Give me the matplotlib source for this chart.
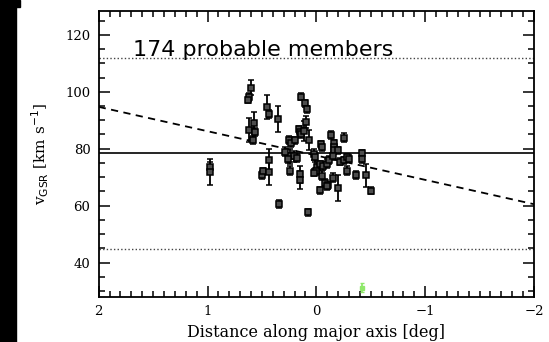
import matplotlib
matplotlib.use('Agg')
import matplotlib.pyplot as plt
import matplotlib.ticker as ticker
from matplotlib.patches import Rectangle
import numpy as np

# member stars: distance along major axis [deg], v_GSR [km/s], error
dist = [0.975, 0.975, 0.62, 0.605, 0.63, 0.62, 0.575, 0.56, 0.58, 0.455,
        0.437, 0.355, 0.495, 0.49, 0.435, 0.433, 0.343, 0.08, 0.14, 0.105,
        0.09, 0.097, 0.16, 0.15, 0.14, 0.113, 0.067, 0.25, 0.23, 0.20,
        0.24, 0.21, 0.18, 0.26, 0.244, 0.15, 0.15, 0.02, 0.01, -0.01,
        -0.04, -0.05, -0.135, -0.16, -0.165, -0.16, -0.257, -0.2, -0.03, -0.06,
        -0.1, -0.12, -0.15, -0.05, -0.08, -0.11, -0.1, -0.037, -0.15, -0.2,
        -0.22, -0.25, -0.28, -0.3, -0.28, -0.365, -0.42, -0.42, -0.46, -0.5,
        0.0, 0.02, 0.29]
vgsr = [73.5, 71.8, 98.2, 101.5, 97.0, 86.7, 89.0, 85.8, 83.0, 94.8,
        92.2, 90.4, 70.8, 72.0, 76.0, 71.8, 60.6, 57.6, 98.3, 96.0,
        93.9, 89.4, 86.8, 86.0, 85.0, 86.1, 83.2, 83.0, 82.0, 83.0,
        77.3, 77.3, 76.8, 76.5, 72.3, 71.0, 69.0, 78.0, 77.0, 73.4,
        81.5, 80.5, 84.9, 82.0, 80.5, 79.5, 83.9, 79.5, 74.5, 74.0,
        74.8, 76.0, 77.5, 70.5, 68.0, 67.2, 66.8, 65.4, 69.8, 66.1,
        75.5, 76.0, 77.0, 76.5, 72.3, 70.7, 78.5, 76.5, 70.7, 65.2,
        72.0, 71.5, 79.0]
verr = [2.0, 4.5, 1.5, 2.5, 1.0, 4.2, 4.0, 1.5, 1.5, 4.2,
        1.5, 4.5, 1.5, 1.2, 4.0, 4.5, 1.3, 1.3, 1.2, 1.2,
        1.2, 2.0, 1.2, 1.2, 1.2, 3.5, 3.5, 1.5, 1.5, 1.2,
        2.5, 2.0, 1.5, 1.5, 1.5, 3.0, 3.0, 2.0, 1.5, 1.5,
        1.2, 1.2, 1.5, 1.2, 1.2, 1.2, 1.5, 1.2, 1.2, 1.5,
        1.5, 1.5, 1.5, 1.5, 1.5, 1.2, 1.2, 1.2, 1.5, 4.5,
        1.2, 1.2, 1.2, 1.2, 1.5, 1.5, 1.2, 1.5, 4.0, 1.2,
        1.2, 1.2, 1.5]

# non-member (green)
green_dist = [-0.417]
green_v = [31.2]
green_err = [1.7]

v_mean = 78.6
v_cut = [112.0, 44.8]
grad_x = [2.0, -2.0]
grad_y = [94.7, 60.5]

fig = plt.figure(figsize=(5.49, 3.42), dpi=100)
fig.patch.set_facecolor('white')
ax = fig.add_axes([0.1798, 0.1325, 0.7929, 0.8362])

# black strip on left edge of the original image
fig.add_artist(Rectangle((0, 0), 16 / 549, 1, transform=fig.transFigure, color='black', zorder=10))
fig.add_artist(Rectangle((0, 1 - 7 / 342), 20 / 549, 7 / 342, transform=fig.transFigure, color='black', zorder=10))

ax.axhline(v_mean, color='black', lw=1.2)
for v in v_cut:
    ax.axhline(v, color='#444444', lw=1.0, ls=(0, (1, 1.6)))
ax.plot(grad_x, grad_y, color='black', lw=1.3, ls=(0, (4, 3)))

ax.errorbar(dist, vgsr, yerr=verr, fmt='s', ms=4, mfc='0.3', mec='black', mew=1.1,
            ecolor='black', elinewidth=1.3, capsize=2, capthick=1.2, zorder=3)
ax.errorbar(green_dist, green_v, yerr=green_err, fmt='s', ms=3, mfc='#8fe86a', mec='#8fe86a',
            ecolor='#8fe86a', elinewidth=1.3, capsize=1.5, zorder=3)

ax.set_xlim(2, -2)
ax.set_ylim(28, 128.5)
ax.xaxis.set_major_locator(ticker.MultipleLocator(1))
ax.xaxis.set_minor_locator(ticker.MultipleLocator(0.1))
ax.yaxis.set_major_locator(ticker.MultipleLocator(20))
ax.yaxis.set_minor_locator(ticker.MultipleLocator(5))
ax.xaxis.set_major_formatter(ticker.FuncFormatter(lambda v, _: '{:.0f}'.format(v).replace('-', '\u2212')))

ax.tick_params(which='both', direction='in', top=True, right=True, width=1.1)
ax.tick_params(which='major', length=8, labelsize=9.5, pad=6)
ax.tick_params(which='minor', length=4)
for lab in ax.get_xticklabels() + ax.get_yticklabels():
    lab.set_family('DejaVu Serif')
for s in ax.spines.values():
    s.set_linewidth(1.3)

ax.set_xlabel('Distance along major axis [deg]', fontfamily='DejaVu Serif', fontsize=11.5, labelpad=4)
ax.set_ylabel(r'v$_{\rm GSR}$ [km s$^{-1}$]', fontfamily='DejaVu Serif', fontsize=11, labelpad=10)

ax.text(0.079, 0.842, '174 probable members', transform=ax.transAxes, fontsize=16,
        fontfamily='DejaVu Sans', va='baseline', ha='left')

fig.savefig('out.png', dpi=100)
